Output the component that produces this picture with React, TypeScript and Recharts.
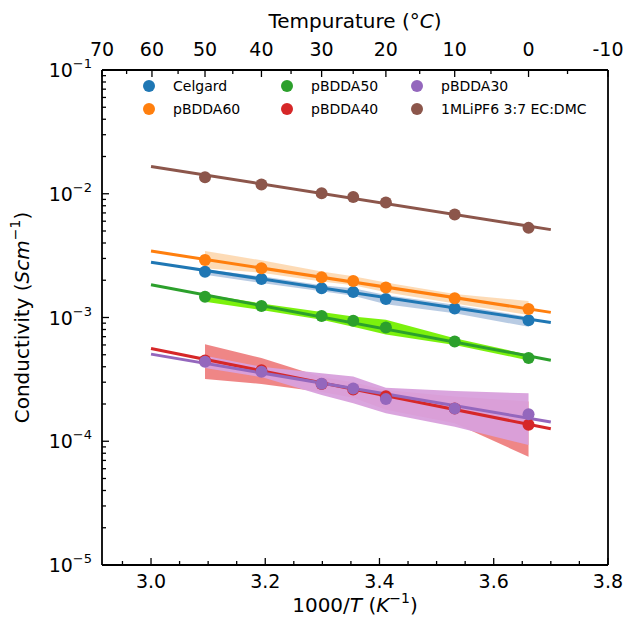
import { ComposedChart, Line, Area, XAxis, YAxis, Label, ReferenceLine } from 'recharts';

// measurement temperatures (°C), plotted at 1000/T
const tempsC = [50, 40, 30, 25, 20, 10, 0];
// fit lines are drawn from 1000/T = 3.0 to 3.7
const fitX = [3.0, 3.7];

const celgard = [0.00234, 0.00205, 0.00172, 0.00161, 0.00141, 0.00118, 0.00095];
const celgardLow = [0.00222, 0.0019, 0.00163, 0.0015, 0.00128, 0.00108, 0.00084];
const celgardHigh = [0.00245, 0.00215, 0.00182, 0.00172, 0.00152, 0.00127, 0.00101];
const celgardFit = [0.00279, 0.000912];

const pbdda60 = [0.00292, 0.0025, 0.00211, 0.00197, 0.00175, 0.00143, 0.00117];
const pbdda60Low = [0.0025, 0.0023, 0.00195, 0.00182, 0.0016, 0.0013, 0.00105];
const pbdda60High = [0.00345, 0.0029, 0.00235, 0.00215, 0.00192, 0.00155, 0.00136];
const pbdda60Fit = [0.00344, 0.0011];

const pbdda50 = [0.00147, 0.00124, 0.00103, 0.00094, 0.00083, 0.00064, 0.00047];
const pbdda50Low = [0.00134, 0.00115, 0.00096, 0.00084, 0.00073, 0.0006, 0.00045];
const pbdda50High = [0.00154, 0.0013, 0.00111, 0.00102, 0.00096, 0.00068, 0.0005];
const pbdda50Fit = [0.00184, 0.000452];

const pbdda40 = [0.00045, 0.000375, 0.00029, 0.000262, 0.000231, 0.000184, 0.000136];
const pbdda40Low = [0.000318, 0.00029, 0.00025, 0.000225, 0.00018, 0.00014, 0.000075];
const pbdda40High = [0.000607, 0.00047, 0.00033, 0.0003, 0.00026, 0.00023, 0.00021];
const pbdda40Fit = [0.000561, 0.000126];

const pbdda30 = [0.000438, 0.000364, 0.000292, 0.000267, 0.000219, 0.000184, 0.000165];
const pbdda30Low = [0.00039, 0.00033, 0.000237, 0.000203, 0.000168, 0.000131, 0.0000933];
const pbdda30High = [0.00049, 0.0004, 0.000354, 0.000333, 0.000271, 0.000255, 0.000244];
const pbdda30Fit = [0.000506, 0.000143];

const lipf6 = [0.0136, 0.0119, 0.0101, 0.0094, 0.0085, 0.0068, 0.0053];
const lipf6Fit = [0.0166, 0.00513];

const xTicks = [2.95, 3.0, 3.05, 3.1, 3.15, 3.2, 3.25, 3.3, 3.35, 3.4, 3.45, 3.5, 3.55, 3.6, 3.65, 3.7, 3.75, 3.8];
const topTempTicks = [70, 65, 60, 55, 50, 45, 40, 35, 30, 25, 20, 15, 10, 5, 0, -5, -10];
const yTicks = [
  1e-5, 2e-5, 3e-5, 4e-5, 5e-5, 6e-5, 7e-5, 8e-5, 9e-5,
  1e-4, 2e-4, 3e-4, 4e-4, 5e-4, 6e-4, 7e-4, 8e-4, 9e-4,
  1e-3, 2e-3, 3e-3, 4e-3, 5e-3, 6e-3, 7e-3, 8e-3, 9e-3,
  1e-2, 2e-2, 3e-2, 4e-2, 5e-2, 6e-2, 7e-2, 8e-2, 9e-2,
  1e-1,
];

const series = [
  { key: 'celgard', name: 'Celgard', color: '#1f77b4', band: '#b4c8e2', values: celgard, low: celgardLow, high: celgardHigh, fit: celgardFit },
  { key: 'pbdda60', name: 'pBDDA60', color: '#ff7f0e', band: '#fdd9b2', values: pbdda60, low: pbdda60Low, high: pbdda60High, fit: pbdda60Fit },
  { key: 'pbdda50', name: 'pBDDA50', color: '#2ca02c', band: '#74f000', values: pbdda50, low: pbdda50Low, high: pbdda50High, fit: pbdda50Fit },
  { key: 'pbdda40', name: 'pBDDA40', color: '#d62728', band: '#ee8080', values: pbdda40, low: pbdda40Low, high: pbdda40High, fit: pbdda40Fit },
  { key: 'pbdda30', name: 'pBDDA30', color: '#9467bd', band: '#d8a0dc', values: pbdda30, low: pbdda30Low, high: pbdda30High, fit: pbdda30Fit },
  { key: 'lipf6', name: '1MLiPF6 3:7 EC:DMC', color: '#8c564b', band: '#c9a9a2', values: lipf6, low: lipf6, high: lipf6, fit: lipf6Fit },
];
const legendOrder = ['celgard', 'pbdda50', 'pbdda30', 'pbdda60', 'pbdda40', 'lipf6'];

const toInvT = (t: number) => 1000 / (t + 273.15);
const X_MIN = toInvT(70);
const X_MAX = toInvT(-10);

const table: Record<string, any>[] = [];
table.push({ x: fitX[0], ...Object.fromEntries(series.map((s) => [s.key + 'Fit', s.fit[0]])) });
tempsC.forEach((t, i) => {
  const row: Record<string, any> = { x: toInvT(t) };
  series.forEach((s) => {
    row[s.key] = s.values[i];
    row[s.key + 'Band'] = [s.low[i], s.high[i]];
  });
  table.push(row);
});
table.push({ x: fitX[1], ...Object.fromEntries(series.map((s) => [s.key + 'Fit', s.fit[1]])) });

const FONT = 'DejaVu Sans';
const W = 627;
const H = 625;
const LEFT = 102;
const RIGHT = 608;
const TOP = 70;
const BOTTOM = 565;

const YTick = (props: any) => {
  const { x, y, payload } = props;
  const lg = Math.log10(payload.value);
  const exp = Math.round(lg);
  const major = Math.abs(lg - exp) < 1e-6;
  return (
    <g>
      <line x1={x} y1={y} x2={x + (major ? 7 : 4)} y2={y} stroke="#000" strokeWidth={1.3} />
      {major && (
        <text x={x - 10} y={y + 7} textAnchor="end" fontSize={19} fontFamily={FONT} fill="#000">
          10<tspan dy={-9} fontSize={13}>{'\u2212' + -exp}</tspan>
        </text>
      )}
    </g>
  );
};

const BottomTick = (props: any) => {
  const { x, y, payload } = props;
  const v = payload.value;
  const major = Math.abs(v * 5 - Math.round(v * 5)) < 1e-6;
  return (
    <g>
      <line x1={x} y1={y} x2={x} y2={y - (major ? 7 : 4)} stroke="#000" strokeWidth={1.3} />
      {major && (
        <text x={x} y={y + 23} textAnchor="middle" fontSize={19} fontFamily={FONT} fill="#000">
          {v.toFixed(1)}
        </text>
      )}
    </g>
  );
};

const TopTick = (props: any) => {
  const { x, y, payload } = props;
  const t = Math.round(1000 / payload.value - 273.15);
  const major = t % 10 === 0;
  return (
    <g>
      <line x1={x} y1={y} x2={x} y2={y + (major ? 7 : 4)} stroke="#000" strokeWidth={1.3} />
      {major && (
        <text x={x} y={y - 14} textAnchor="middle" fontSize={19} fontFamily={FONT} fill="#000">
          {String(t)}
        </text>
      )}
    </g>
  );
};

export default function App() {
  return (
    <div style={{ position: 'absolute', left: 0, top: 0, width: W, height: H, background: '#fff' }}>
      <ComposedChart
        width={W}
        height={H}
        data={table}
        margin={{ top: TOP - 30, right: W - RIGHT, bottom: H - BOTTOM - 40, left: LEFT - 60 }}
      >
        <XAxis
          dataKey="x"
          type="number"
          domain={[X_MIN, X_MAX]}
          allowDataOverflow
          ticks={xTicks}
          interval={0}
          height={40}
          tickSize={0}
          tickMargin={0}
          tick={<BottomTick />}
          axisLine={{ stroke: '#000', strokeWidth: 1.8 }}
          tickLine={false}
        >
          <Label
            content={() => (
              <text x={(LEFT + RIGHT) / 2} y={612} textAnchor="middle" fontSize={20} fontFamily={FONT} fill="#000">
                1000/<tspan fontStyle="italic">T</tspan> (<tspan fontStyle="italic">K</tspan>
                <tspan dy={-9} fontSize={14}>{'\u2212'}1</tspan>
                <tspan dy={9}>)</tspan>
              </text>
            )}
          />
        </XAxis>
        <XAxis
          xAxisId="top"
          orientation="top"
          dataKey="x"
          type="number"
          domain={[X_MIN, X_MAX]}
          allowDataOverflow
          ticks={topTempTicks.map(toInvT)}
          interval={0}
          height={30}
          tickSize={0}
          tickMargin={0}
          tick={<TopTick />}
          axisLine={{ stroke: '#000', strokeWidth: 1.8 }}
          tickLine={false}
        >
          <Label
            content={() => (
              <text x={(LEFT + RIGHT) / 2} y={28} textAnchor="middle" fontSize={20} fontFamily={FONT} fill="#000">
                Tempurature (°<tspan fontStyle="italic">C</tspan>)
              </text>
            )}
          />
        </XAxis>
        <YAxis
          type="number"
          scale="log"
          domain={[1e-5, 1e-1]}
          allowDataOverflow
          ticks={yTicks}
          interval={0}
          width={60}
          tickSize={0}
          tickMargin={0}
          tick={<YTick />}
          axisLine={{ stroke: '#000', strokeWidth: 1.8 }}
          tickLine={false}
        >
          <Label
            content={() => (
              <text
                x={29}
                y={(TOP + BOTTOM) / 2}
                transform={`rotate(-90 29 ${(TOP + BOTTOM) / 2})`}
                textAnchor="middle"
                fontSize={20}
                fontFamily={FONT}
                fill="#000"
              >
                Conductivity (<tspan fontStyle="italic">Scm</tspan>
                <tspan dy={-9} fontSize={14}>{'\u2212'}1</tspan>
                <tspan dy={9}>)</tspan>
              </text>
            )}
          />
        </YAxis>
        <ReferenceLine x={X_MAX} stroke="#000" strokeWidth={1.8} ifOverflow="visible" />

        {['celgard', 'pbdda60', 'pbdda50', 'pbdda40', 'pbdda30'].map((k) => {
          const s = series.find((d) => d.key === k)!;
          return (
            <Area
              key={k + 'Band'}
              dataKey={k + 'Band'}
              type="linear"
              stroke="none"
              fill={s.band}
              fillOpacity={0.95}
              isAnimationActive={false}
              activeDot={false}
              dot={false}
            />
          );
        })}

        {['lipf6', 'pbdda60', 'celgard', 'pbdda50', 'pbdda40', 'pbdda30'].map((k) => {
          const s = series.find((d) => d.key === k)!;
          return (
            <Line
              key={k + 'Fit'}
              dataKey={k + 'Fit'}
              type="linear"
              stroke={s.color}
              strokeWidth={3}
              dot={false}
              activeDot={false}
              connectNulls
              isAnimationActive={false}
            />
          );
        })}

        {series.map((s) => (
          <Line
            key={s.key}
            dataKey={s.key}
            name={s.name}
            type="linear"
            stroke="none"
            dot={{ r: 6, fill: s.color, stroke: 'none', fillOpacity: 1 }}
            activeDot={false}
            isAnimationActive={false}
          />
        ))}
      </ComposedChart>

      <div
        style={{
          position: 'absolute',
          left: 140,
          top: 77,
          display: 'grid',
          gridTemplateColumns: '138px 130px 180px',
          rowGap: 5,
          fontFamily: FONT,
          fontSize: 14,
          color: '#000',
          whiteSpace: 'nowrap',
        }}
      >
        {legendOrder.map((k) => {
          const s = series.find((d) => d.key === k)!;
          return (
            <div key={k} style={{ display: 'flex', alignItems: 'center', height: 18 }}>
              <span
                style={{
                  display: 'inline-block',
                  width: 12,
                  height: 12,
                  borderRadius: '50%',
                  background: s.color,
                  marginLeft: 3,
                  marginRight: 18,
                  flexShrink: 0,
                }}
              />
              <span>{s.name}</span>
            </div>
          );
        })}
      </div>
    </div>
  );
}
